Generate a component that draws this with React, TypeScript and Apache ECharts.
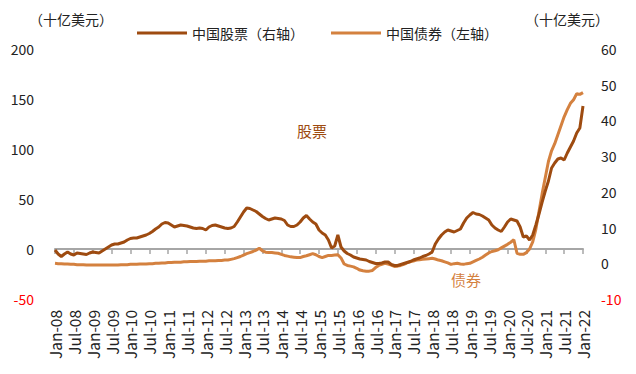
import React, { useEffect, useRef } from "react";
import * as echarts from "echarts";

const MONTH_NAMES = ["Jan", "Feb", "Mar", "Apr", "May", "Jun", "Jul", "Aug", "Sep", "Oct", "Nov", "Dec"];
const START_YEAR = 8; // 2008
const N_MONTHS = 169; // Jan-08 .. Jan-22
const categories: string[] = Array.from({ length: N_MONTHS }, (_, i) =>
  `${MONTH_NAMES[i % 12]}-${String(START_YEAR + Math.floor(i / 12)).padStart(2, "0")}`
);

const STOCK_NAME = "中国股票（右轴）";
const BOND_NAME = "中国债券（左轴）";

// Stocks, plotted against the left scale (-50..200)
const stocks: number[] = [
  -1, -5, -7.5, -5, -3, -5, -6, -4, -4.5, -5, -5.5, -4,
  -3, -3.5, -4, -2, 0, 2, 4, 5, 5, 6, 7, 9,
  10.5, 11, 11, 12, 13, 14, 15.5, 17.5, 20, 22, 25, 26.5,
  26, 24, 22, 23, 24, 23.5, 23, 22, 21, 20.5, 21, 20.5,
  19, 22, 23.5, 24, 23, 22, 21, 20.5, 21, 22.5, 27, 32,
  37, 41, 40.5, 39, 37.5, 35, 32.5, 30.5, 29, 30, 31, 30.5,
  30, 28.5, 24, 22.5, 22.5, 24, 27, 31, 33.5, 30, 27, 25,
  19, 16, 14, 9, 1, 3, 14, 2, -2, -4.5, -6, -8,
  -9, -10, -10.5, -11, -12.5, -13.5, -14.5, -14.5, -14, -13, -13, -15.5,
  -16.5, -16.5, -15.5, -14.5, -13.5, -12.5, -11, -10, -9, -7.5, -6.5, -5,
  -3, 5, 10, 14, 17, 19, 18, 17, 18.5, 20, 26, 31,
  34, 36.5, 35, 34.5, 33, 31, 29, 24, 21, 19, 17.5, 22,
  27, 30, 29, 28, 22, 12, 13, 9, 14, 24, 35, 47,
  58, 68, 81, 86, 90, 91, 89, 96, 102, 108, 116, 121,
  143,
];

// Bonds, plotted against the right scale (-10..60)
const bonds: number[] = [
  0, -0.1, -0.1, -0.2, -0.2, -0.3, -0.3, -0.4, -0.4, -0.4, -0.5, -0.5,
  -0.5, -0.5, -0.5, -0.5, -0.5, -0.5, -0.5, -0.5, -0.5, -0.4, -0.4, -0.4,
  -0.3, -0.3, -0.3, -0.2, -0.2, -0.2, -0.1, -0.1, 0, 0, 0.1, 0.1,
  0.2, 0.2, 0.3, 0.3, 0.3, 0.4, 0.4, 0.5, 0.5, 0.5, 0.6, 0.6,
  0.6, 0.7, 0.7, 0.7, 0.8, 0.8, 0.9, 0.9, 1.1, 1.3, 1.6, 1.9,
  2.3, 2.7, 3.0, 3.3, 3.7, 4.2, 3.5, 3.1, 3.0, 3.0, 2.9, 2.8,
  2.5, 2.2, 2.0, 1.8, 1.7, 1.6, 1.6, 1.9, 2.1, 2.4, 2.7, 2.4,
  1.9, 1.6, 1.9, 2.2, 2.2, 2.3, 2.4, 1.5, -0.2, -0.6, -0.8, -1.0,
  -1.4, -1.9, -2.1, -2.2, -2.2, -2.0, -1.2, -0.6, -0.3, 0, -0.2, -0.5,
  -0.9, -0.8, -0.6, -0.3, 0.1, 0.4, 0.6, 0.9, 1.0, 1.1, 1.2, 1.3,
  1.4, 1.2, 0.9, 0.7, 0.4, 0.1, -0.3, -0.1, 0, -0.2, -0.3, -0.1,
  0, 0.4, 0.8, 1.2, 1.7, 2.3, 2.9, 3.3, 3.5, 3.8, 4.3, 4.8,
  5.3, 5.9, 6.6, 2.8, 2.5, 2.5, 3.0, 4.0, 6.0, 9.5, 14.5, 19.5,
  24, 28.5, 31.5, 33.5, 36, 38.5, 41, 43, 44.8, 45.8, 47.5, 47.3,
  47.8,
];

const STOCK_COLOR = "#9E4B10";
const BOND_COLOR = "#D4813F";
const FONT = "'Noto Sans CJK SC', sans-serif";
const CJK_FONT = "'Noto Sans CJK SC', sans-serif";

export default function App() {
  const ref = useRef<HTMLDivElement>(null);

  useEffect(() => {
    document.body.style.margin = "0";
    if (!ref.current) return;
    const chart = echarts.init(ref.current, undefined, { renderer: "svg" });
    const negLabel = (v: number) => (v < 0 ? `{r|${v}}` : `${v}`);
    chart.setOption({
      animation: false,
      textStyle: { fontFamily: FONT },
      grid: { left: 55, right: 53, top: 49, bottom: 75, containLabel: false },
      legend: {
        left: 132,
        top: 21,
        icon: "rect",
        itemWidth: 50,
        itemHeight: 3,
        itemGap: 27,
        textStyle: { fontFamily: CJK_FONT, fontSize: 14, color: "#222" },
        data: [STOCK_NAME, BOND_NAME],
      },
      xAxis: [
        {
          type: "category",
          data: categories,
          boundaryGap: false,
          position: "bottom",
          axisLine: { show: false, onZero: false },
          axisTick: { show: false },
          axisLabel: {
            interval: 5,
            rotate: 90,
            margin: 11,
            fontSize: 15.5,
            color: "#222",
            fontFamily: FONT,
          },
          splitLine: { show: false },
        },
        {
          type: "category",
          data: categories,
          boundaryGap: false,
          position: "bottom",
          axisLine: {
            show: true,
            onZero: true,
            onZeroAxisIndex: 0,
            lineStyle: { color: "#A6A6A6", width: 2 },
          },
          axisTick: {
            show: true,
            interval: 5,
            length: 5,
            lineStyle: { color: "#A6A6A6", width: 1.5 },
          },
          axisLabel: { show: false },
          splitLine: { show: false },
        },
      ],
      yAxis: [
        {
          type: "value",
          min: -50,
          max: 200,
          interval: 50,
          position: "left",
          axisLine: { show: false },
          axisTick: { show: false },
          splitLine: { show: false },
          axisLabel: {
            margin: 21,
            fontSize: 14,
            color: "#222",
            fontFamily: FONT,
            formatter: negLabel,
            rich: { r: { color: "#FF0000", fontSize: 14, fontFamily: FONT } },
          },
        },
        {
          type: "value",
          min: -10,
          max: 60,
          interval: 10,
          position: "right",
          axisLine: { show: false },
          axisTick: { show: false },
          splitLine: { show: false },
          axisLabel: {
            margin: 18,
            fontSize: 14,
            color: "#222",
            fontFamily: FONT,
            formatter: negLabel,
            rich: { r: { color: "#FF0000", fontSize: 14, fontFamily: FONT } },
          },
        },
      ],
      series: [
        {
          name: STOCK_NAME,
          type: "line",
          xAxisIndex: 0,
          yAxisIndex: 0,
          data: stocks,
          showSymbol: false,
          symbol: "none",
          color: STOCK_COLOR,
          lineStyle: { color: STOCK_COLOR, width: 3 },
          z: 3,
        },
        {
          name: BOND_NAME,
          type: "line",
          xAxisIndex: 0,
          yAxisIndex: 1,
          data: bonds,
          showSymbol: false,
          symbol: "none",
          color: BOND_COLOR,
          lineStyle: { color: BOND_COLOR, width: 3 },
          z: 2,
        },
      ],
      graphic: [
        {
          type: "text",
          x: 29,
          y: 19,
          style: {
            text: "（十亿美元）",
            fill: "#222",
            fontSize: 14,
            fontFamily: CJK_FONT,
            align: "left",
            verticalAlign: "middle",
          },
        },
        {
          type: "text",
          x: 525,
          y: 19,
          style: {
            text: "（十亿美元）",
            fill: "#222",
            fontSize: 14,
            fontFamily: CJK_FONT,
            align: "left",
            verticalAlign: "middle",
          },
        },
        {
          type: "text",
          x: 297,
          y: 130,
          style: {
            text: "股票",
            fill: STOCK_COLOR,
            fontSize: 15,
            fontFamily: CJK_FONT,
            align: "left",
            verticalAlign: "middle",
          },
        },
        {
          type: "text",
          x: 451,
          y: 279,
          style: {
            text: "债券",
            fill: BOND_COLOR,
            fontSize: 15,
            fontFamily: CJK_FONT,
            align: "left",
            verticalAlign: "middle",
          },
        },
      ],
    });
    return () => chart.dispose();
  }, []);

  return (
    <div
      ref={ref}
      style={{ position: "fixed", left: 0, top: 0, width: 636, height: 374, background: "#fff" }}
    />
  );
}
